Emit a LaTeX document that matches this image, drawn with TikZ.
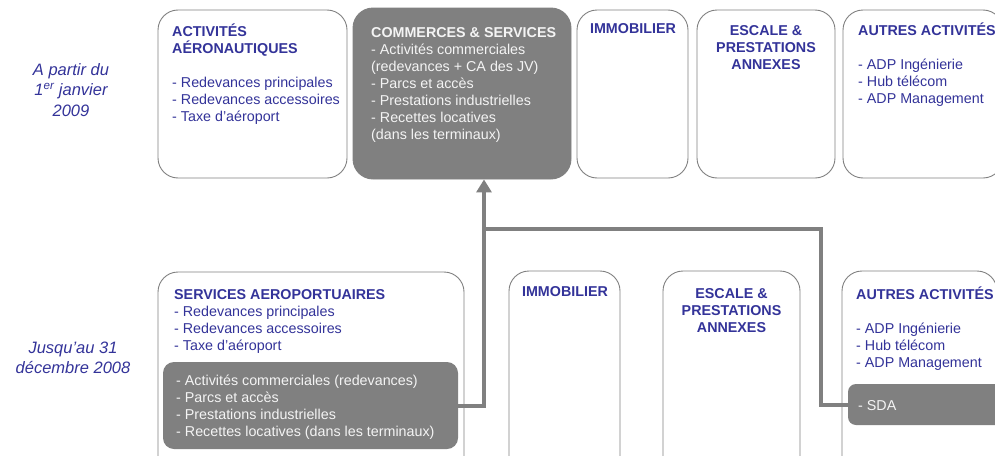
\documentclass[tikz,border=0pt]{standalone}
\usepackage{fontspec}
\setmainfont{Liberation Sans}
\usetikzlibrary{arrows.meta}
\definecolor{adpblue}{HTML}{333399}
\definecolor{adpgray}{HTML}{808080}
\definecolor{boxline}{HTML}{808080}
\definecolor{lighttxt}{HTML}{F4F4F4}
\newcommand\fl{\rule{0pt}{14pt}}
\newcommand\flb{\rule{0pt}{16pt}}
\begin{document}
\begin{tikzpicture}[x=1pt,y=-1pt,
  wbox/.style={draw=boxline, line width=0.9pt, fill=white, rounded corners=20pt, inner sep=0pt},
  gbox/.style={draw=boxline, line width=0.9pt, fill=adpgray, rounded corners=20pt, inner sep=0pt},
  ibox/.style={draw=none, fill=adpgray, rounded corners=11pt, inner sep=0pt},
  sbox/.style={draw=none, fill=adpgray, rounded corners=8pt, inner sep=0pt},
  conn/.style={draw=adpgray, line width=4pt},
  txt/.style={anchor=north west, inner sep=0pt, align=left, text=adpblue, font=\fontsize{14.3}{17}\selectfont},
  ctxt/.style={anchor=north, inner sep=0pt, align=center, text=adpblue, font=\fontsize{14.3}{17}\selectfont\bfseries},
  wtxt/.style={txt, text=lighttxt},
  side/.style={anchor=north, inner sep=0pt, align=center, text=adpblue, font=\fontsize{16.5}{20.5}\selectfont\itshape}
]
\useasboundingbox (0,0) rectangle (995,455);
\clip (0,0) rectangle (995,455);

% top row boxes
\node[wbox, minimum width=189, minimum height=168] (a1) at (252.5,94) {};
\node[gbox, minimum width=218, minimum height=171] (a2) at (462,93.5) {};
\node[wbox, minimum width=111, minimum height=168] (a3) at (632.5,94) {};
\node[wbox, minimum width=138, minimum height=168] (a4) at (766,94) {};
\node[wbox, minimum width=160, minimum height=168] (a5) at (923,94) {};

% bottom row boxes
\node[wbox, minimum width=306, minimum height=210] (b1) at (311,377) {};
\node[ibox, minimum width=295, minimum height=87] (cs) at (310.5,405.5) {};
\node[wbox, minimum width=111, minimum height=210] (b2) at (564.5,376) {};
\node[wbox, minimum width=137, minimum height=210] (b3) at (731.5,376) {};
\node[wbox, minimum width=155, minimum height=210] (b4) at (919.5,376) {};
\node[sbox, minimum width=160, minimum height=41] (sda) at (928,404.5) {};

% side labels
\node[side] (l1) at (71,59) {\flb A partir du\\1\textsuperscript{er} janvier\\2009};
\node[side] (l2) at (73,337) {\flb Jusqu'au 31\\décembre 2008};

% top texts
\node[txt] (t1) at (172,22) {\fl\textbf{ACTIVITÉS}\\\textbf{AÉRONAUTIQUES}\\[17pt]- Redevances principales\\- Redevances accessoires\\- Taxe d'aéroport};
\node[wtxt] (t2) at (371,23) {\fl\textbf{COMMERCES \& SERVICES}\\- Activités commerciales\\(redevances + CA des JV)\\- Parcs et accès\\- Prestations industrielles\\- Recettes locatives\\(dans les terminaux)};
\node[ctxt] (t3) at (633,19) {\fl IMMOBILIER};
\node[ctxt] (t4) at (766,21) {\fl ESCALE \&\\PRESTATIONS\\ANNEXES};
\node[txt] (t5) at (858,21) {\fl\textbf{AUTRES ACTIVITÉS}\\[17pt]- ADP Ingénierie\\- Hub télécom\\- ADP Management};

% bottom texts
\node[txt] (u1) at (174,285) {\fl\textbf{SERVICES AEROPORTUAIRES}\\- Redevances principales\\- Redevances accessoires\\- Taxe d'aéroport};
\node[wtxt] (u2) at (176,371) {\fl- Activités commerciales (redevances)\\- Parcs et accès\\- Prestations industrielles\\- Recettes locatives (dans les terminaux)};
\node[ctxt] (u3) at (565,282) {\fl IMMOBILIER};
\node[ctxt] (u4) at (731.5,284) {\fl ESCALE \&\\PRESTATIONS\\ANNEXES};
\node[txt] (u5) at (856,285) {\fl\textbf{AUTRES ACTIVITÉS}\\[17pt]- ADP Ingénierie\\- Hub télécom\\- ADP Management};
\node[wtxt] (u6) at (858,396) {\fl- SDA};

% connectors
\coordinate (j) at (484,229);
\coordinate (k) at (821,229);
\draw[conn] (cs.east) -| (j);
\draw[conn] (sda.west) -| (k) -- (j);
\draw[conn, -{Triangle[width=15pt,length=13pt]}] (j) -- (j |- a2.south);
\end{tikzpicture}
\end{document}
